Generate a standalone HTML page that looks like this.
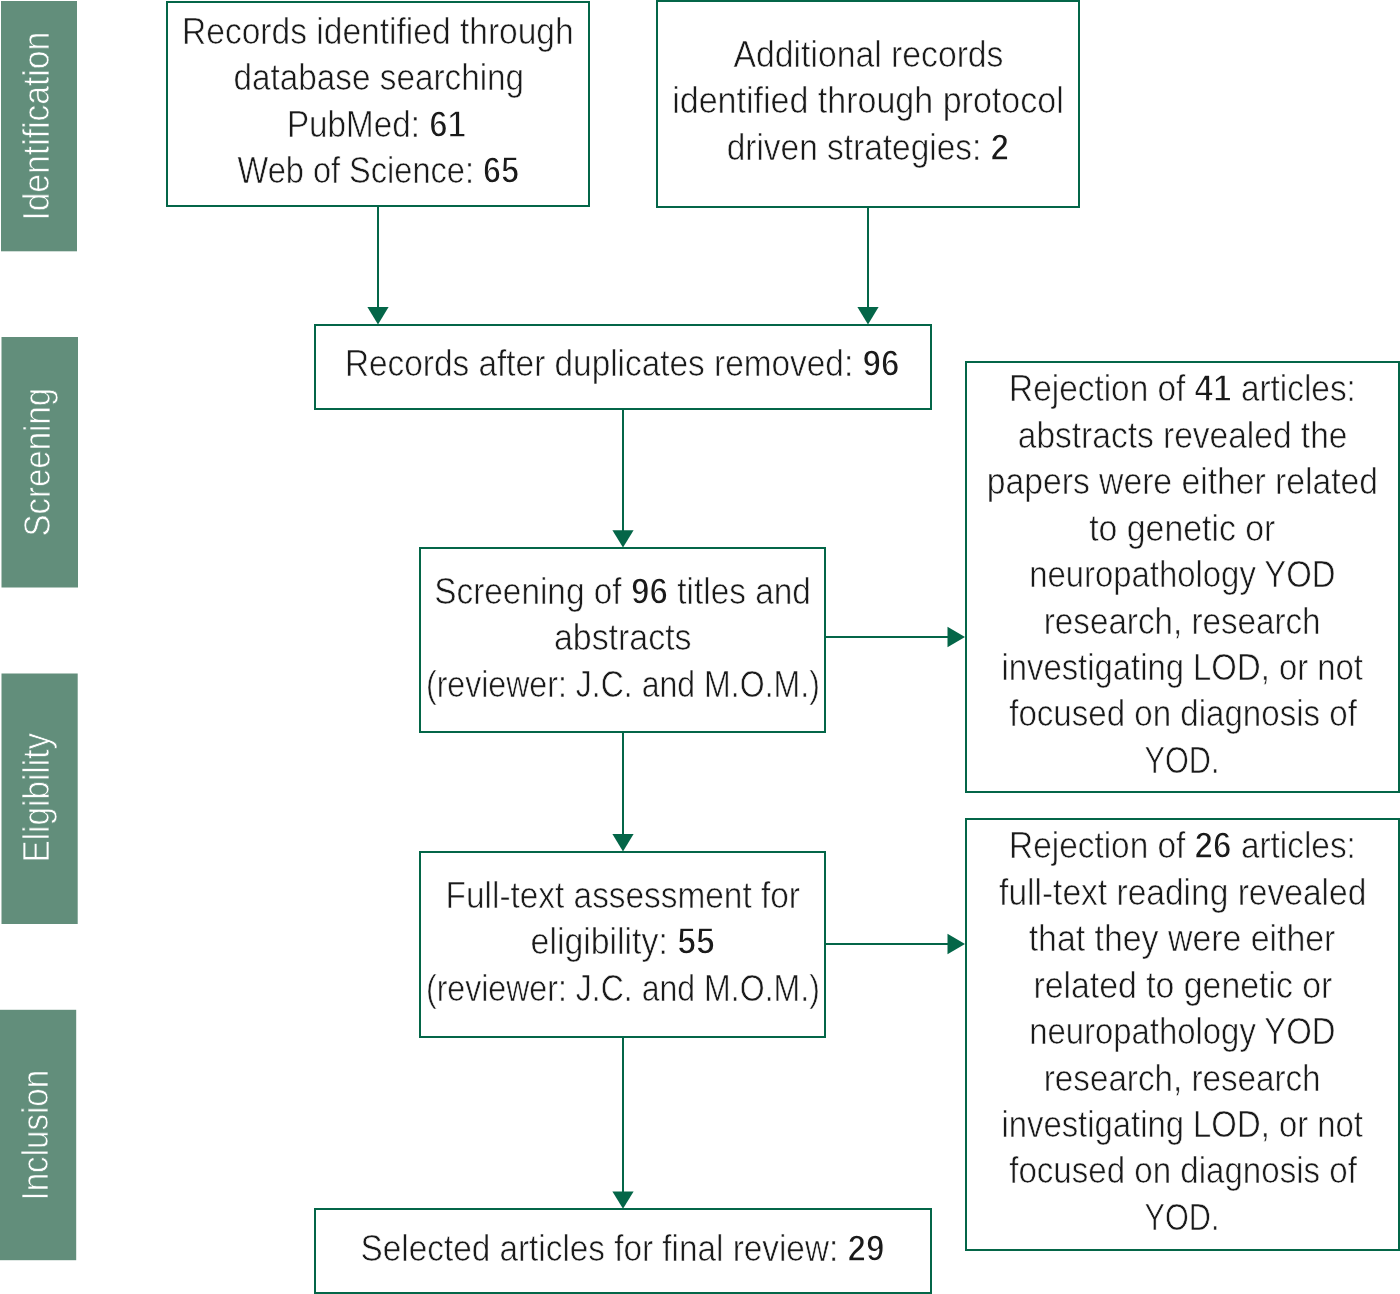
<!DOCTYPE html>
<html><head><meta charset="utf-8"><title>PRISMA flow diagram</title>
<style>
html,body{margin:0;padding:0;background:#fff;}
body{width:1400px;height:1294px;overflow:hidden;position:relative;}
svg{position:absolute;left:0;top:0;display:block;will-change:transform;}
text{font-family:"Liberation Sans",sans-serif;font-size:36px;fill:#1a1a1a;stroke:#fff;stroke-width:0.6px;}
.b{font-weight:bold;stroke-width:1.4px;}
.lab{font-size:36px;fill:#ffffff;stroke:#628e7b;stroke-width:0.7px;}
</style></head>
<body>
<svg width="1400" height="1294" viewBox="0 0 1400 1294">
<rect x="1" y="1" width="76.00" height="250.30" fill="#628e7b"/>
<rect x="1.5" y="337" width="76.50" height="250.50" fill="#628e7b"/>
<rect x="1.5" y="673.5" width="76.20" height="250.50" fill="#628e7b"/>
<rect x="0" y="1009.8" width="76.20" height="250.40" fill="#628e7b"/>
<rect x="167" y="2" width="422.00" height="204.00" fill="none" stroke="#046648" stroke-width="2"/>
<rect x="657" y="1" width="422.00" height="206.00" fill="none" stroke="#046648" stroke-width="2"/>
<rect x="315" y="325" width="616.00" height="84.00" fill="none" stroke="#046648" stroke-width="2"/>
<rect x="420" y="548" width="405.00" height="184.00" fill="none" stroke="#046648" stroke-width="2"/>
<rect x="420" y="852" width="405.00" height="185.00" fill="none" stroke="#046648" stroke-width="2"/>
<rect x="315" y="1209" width="616.00" height="84.00" fill="none" stroke="#046648" stroke-width="2"/>
<rect x="966" y="362" width="433.00" height="430.00" fill="none" stroke="#046648" stroke-width="2"/>
<rect x="966" y="819" width="433.00" height="431.00" fill="none" stroke="#046648" stroke-width="2"/>
<line x1="378" y1="206" x2="378" y2="308.1" stroke="#046648" stroke-width="2"/>
<polygon points="367.4,307.1 388.6,307.1 378,324.6" fill="#046648"/>
<line x1="868" y1="207" x2="868" y2="308.0" stroke="#046648" stroke-width="2"/>
<polygon points="857.4,307.0 878.6,307.0 868,324.6" fill="#046648"/>
<line x1="623" y1="409" x2="623" y2="531.2" stroke="#046648" stroke-width="2"/>
<polygon points="612.4,530.2 633.6,530.2 623,547.5" fill="#046648"/>
<line x1="623" y1="732" x2="623" y2="835.0" stroke="#046648" stroke-width="2"/>
<polygon points="612.4,834.0 633.6,834.0 623,851.6" fill="#046648"/>
<line x1="623" y1="1037" x2="623" y2="1192.6" stroke="#046648" stroke-width="2"/>
<polygon points="612.4,1191.6 633.6,1191.6 623,1208.8" fill="#046648"/>
<line x1="825" y1="637" x2="948.5" y2="637" stroke="#046648" stroke-width="2"/>
<polygon points="947.5,626.7 947.5,647.3 965.0,637" fill="#046648"/>
<line x1="825" y1="944" x2="948.5" y2="944" stroke="#046648" stroke-width="2"/>
<polygon points="947.5,933.7 947.5,954.3 965.0,944" fill="#046648"/>
<text x="377.85" y="43.9" text-anchor="middle" textLength="391.70" lengthAdjust="spacingAndGlyphs">Records identified through</text>
<text x="378.80" y="90.33" text-anchor="middle" textLength="290.60" lengthAdjust="spacingAndGlyphs">database searching</text>
<text x="376.50" y="136.76" text-anchor="middle" textLength="179.20" lengthAdjust="spacingAndGlyphs">PubMed: <tspan class="b">61</tspan></text>
<text x="378.35" y="183.19" text-anchor="middle" textLength="281.70" lengthAdjust="spacingAndGlyphs">Web of Science: <tspan class="b">65</tspan></text>
<text x="868.55" y="67.0" text-anchor="middle" textLength="269.90" lengthAdjust="spacingAndGlyphs">Additional records</text>
<text x="867.95" y="113.4" text-anchor="middle" textLength="391.50" lengthAdjust="spacingAndGlyphs">identified through protocol</text>
<text x="867.95" y="159.8" text-anchor="middle" textLength="282.50" lengthAdjust="spacingAndGlyphs">driven strategies: <tspan class="b">2</tspan></text>
<text x="622.27" y="376.4" text-anchor="middle" textLength="554.65" lengthAdjust="spacingAndGlyphs">Records after duplicates removed: <tspan class="b">96</tspan></text>
<text x="622.55" y="603.9" text-anchor="middle" textLength="376.70" lengthAdjust="spacingAndGlyphs">Screening of <tspan class="b">96</tspan> titles and</text>
<text x="622.75" y="650.3" text-anchor="middle" textLength="137.70" lengthAdjust="spacingAndGlyphs">abstracts</text>
<text x="622.95" y="696.7" text-anchor="middle" textLength="393.90" lengthAdjust="spacingAndGlyphs">(reviewer: J.C. and M.O.M.)</text>
<text x="622.75" y="907.9" text-anchor="middle" textLength="354.30" lengthAdjust="spacingAndGlyphs">Full-text assessment for</text>
<text x="622.70" y="954.3" text-anchor="middle" textLength="184.20" lengthAdjust="spacingAndGlyphs">eligibility: <tspan class="b">55</tspan></text>
<text x="622.95" y="1000.7" text-anchor="middle" textLength="393.90" lengthAdjust="spacingAndGlyphs">(reviewer: J.C. and M.O.M.)</text>
<text x="622.55" y="1260.7" text-anchor="middle" textLength="523.90" lengthAdjust="spacingAndGlyphs">Selected articles for final review: <tspan class="b">29</tspan></text>
<text x="1182.50" y="401.4" text-anchor="middle" textLength="346.80" lengthAdjust="spacingAndGlyphs">Rejection of <tspan class="b">41</tspan> articles:</text>
<text x="1182.60" y="447.84" text-anchor="middle" textLength="329.60" lengthAdjust="spacingAndGlyphs">abstracts revealed the</text>
<text x="1182.40" y="494.28" text-anchor="middle" textLength="391.20" lengthAdjust="spacingAndGlyphs">papers were either related</text>
<text x="1182.25" y="540.72" text-anchor="middle" textLength="186.10" lengthAdjust="spacingAndGlyphs">to genetic or</text>
<text x="1182.40" y="587.16" text-anchor="middle" textLength="306.40" lengthAdjust="spacingAndGlyphs">neuropathology YOD</text>
<text x="1182.20" y="633.6" text-anchor="middle" textLength="276.80" lengthAdjust="spacingAndGlyphs">research, research</text>
<text x="1182.15" y="680.04" text-anchor="middle" textLength="361.50" lengthAdjust="spacingAndGlyphs">investigating LOD, or not</text>
<text x="1183.05" y="726.48" text-anchor="middle" textLength="347.70" lengthAdjust="spacingAndGlyphs">focused on diagnosis of</text>
<text x="1181.95" y="772.92" text-anchor="middle" textLength="74.90" lengthAdjust="spacingAndGlyphs">YOD.</text>
<text x="1182.50" y="858.4" text-anchor="middle" textLength="346.80" lengthAdjust="spacingAndGlyphs">Rejection of <tspan class="b">26</tspan> articles:</text>
<text x="1182.70" y="904.83" text-anchor="middle" textLength="367.20" lengthAdjust="spacingAndGlyphs">full-text reading revealed</text>
<text x="1182.05" y="951.26" text-anchor="middle" textLength="306.70" lengthAdjust="spacingAndGlyphs">that they were either</text>
<text x="1182.85" y="997.69" text-anchor="middle" textLength="298.90" lengthAdjust="spacingAndGlyphs">related to genetic or</text>
<text x="1182.40" y="1044.12" text-anchor="middle" textLength="306.40" lengthAdjust="spacingAndGlyphs">neuropathology YOD</text>
<text x="1182.20" y="1090.55" text-anchor="middle" textLength="276.80" lengthAdjust="spacingAndGlyphs">research, research</text>
<text x="1182.15" y="1136.98" text-anchor="middle" textLength="361.50" lengthAdjust="spacingAndGlyphs">investigating LOD, or not</text>
<text x="1183.05" y="1183.41" text-anchor="middle" textLength="347.70" lengthAdjust="spacingAndGlyphs">focused on diagnosis of</text>
<text x="1181.95" y="1229.84" text-anchor="middle" textLength="74.90" lengthAdjust="spacingAndGlyphs">YOD.</text>
<text class="lab" transform="translate(48.6,126.2) rotate(-90)" x="0" y="0" text-anchor="middle" textLength="189.00" lengthAdjust="spacingAndGlyphs">Identification</text>
<text class="lab" transform="translate(49.5,462.2) rotate(-90)" x="0" y="0" text-anchor="middle" textLength="148.70" lengthAdjust="spacingAndGlyphs">Screening</text>
<text class="lab" transform="translate(48.8,797.7) rotate(-90)" x="0" y="0" text-anchor="middle" textLength="129.60" lengthAdjust="spacingAndGlyphs">Eligibility</text>
<text class="lab" transform="translate(48.2,1135.2) rotate(-90)" x="0" y="0" text-anchor="middle" textLength="130.70" lengthAdjust="spacingAndGlyphs">Inclusion</text>
</svg>
</body></html>
